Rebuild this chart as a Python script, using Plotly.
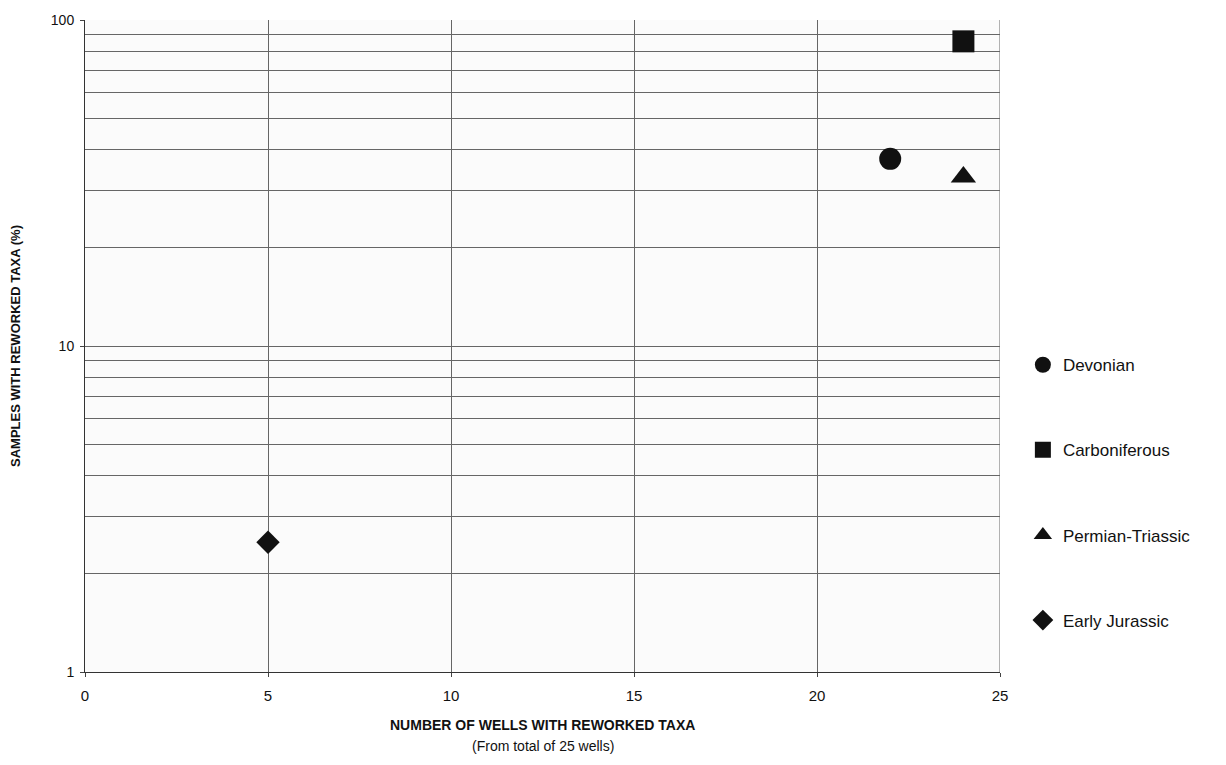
import plotly.graph_objects as go

series_names = ["Devonian", "Carboniferous", "Permian-Triassic", "Early Jurassic"]
wells = [22, 24, 24, 5]
samples_pct = [37.5, 86, 33, 2.5]
symbols = ["circle", "square", "triangle-up", "diamond"]
x_ticks = [0, 5, 10, 15, 20, 25]
y_ticks = [1, 10, 100]

fig = go.Figure()
for i, name in enumerate(series_names):
    fig.add_trace(go.Scatter(
        x=[wells[i]], y=[samples_pct[i]], mode="markers", name=name,
        legendgroup=name,
        marker=dict(symbol=symbols[i], size=22 if symbols[i] != "diamond" else 18,
                    color="#111111", line=dict(width=0)),
    ))

fig.update_layout(
    width=1210, height=749,
    margin=dict(l=77, r=218, t=12, b=85, autoexpand=False),
    paper_bgcolor="white", plot_bgcolor="#fbfbfb",
    font=dict(family="Liberation Sans, Arial, sans-serif", color="#111111", size=14),
    showlegend=True,
    legend=dict(x=1.025, y=0.275, xanchor="left", yanchor="middle",
                font=dict(size=17), tracegroupgap=60, itemsizing="trace",
                bgcolor="rgba(0,0,0,0)"),
    annotations=[
        dict(text="<b>NUMBER OF WELLS WITH REWORKED TAXA</b>", xref="paper", yref="paper",
             x=0.5, y=0, yanchor="middle", yshift=-53, showarrow=False, font=dict(size=14)),
        dict(text="(From total of 25 wells)", xref="paper", yref="paper",
             x=0.5, y=0, yanchor="middle", yshift=-74, showarrow=False, font=dict(size=14)),
    ],
)
fig.update_xaxes(
    range=[0, 25], tickvals=x_ticks, ticks="outside", ticklen=4, ticklabelstandoff=6,
    showgrid=True, gridcolor="#666666", gridwidth=1,
    showline=True, linecolor="#333333", linewidth=1, zeroline=False,
    tickfont=dict(size=15), automargin=False,
)
fig.update_yaxes(
    type="log", range=[0, 2], tickvals=y_ticks, ticktext=[str(v) for v in y_ticks],
    ticks="outside", ticklen=4, ticklabelstandoff=3, tickfont=dict(size=14), automargin=False,
    showgrid=True, gridcolor="#666666", gridwidth=1,
    minor=dict(showgrid=True, dtick="D1", gridcolor="#666666", gridwidth=1, ticks=""),
    showline=True, linecolor="#333333", linewidth=1, zeroline=False, mirror=False,
    title=dict(text="<b>SAMPLES WITH REWORKED TAXA (%)</b>", font=dict(size=13), standoff=30),
)
fig.add_shape(type="line", xref="x", yref="paper", x0=25, x1=25, y0=0, y1=1,
              line=dict(color="#666666", width=1))
fig.write_html("out.html")
